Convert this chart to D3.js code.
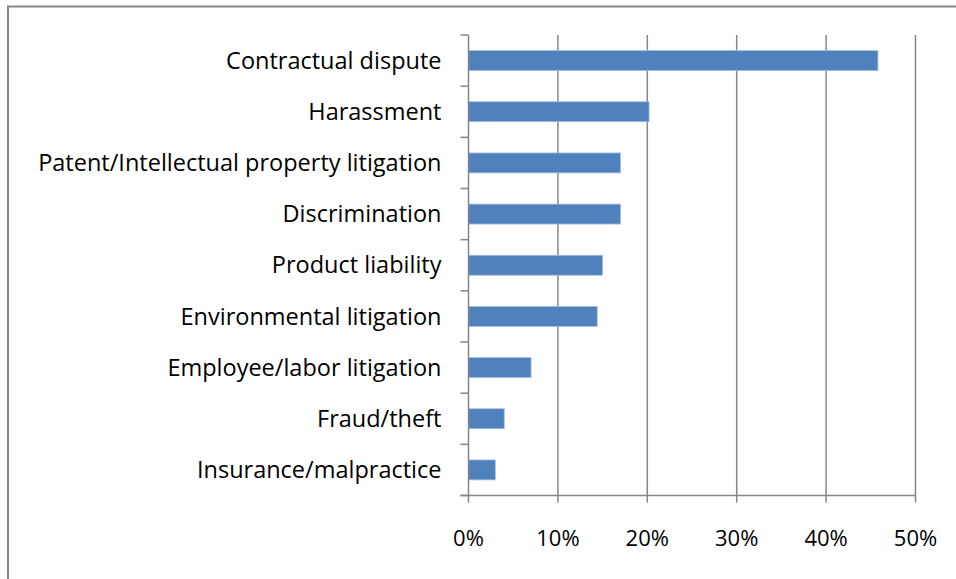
<!DOCTYPE html>
<html><head><meta charset="utf-8">
<script src="https://cdn.jsdelivr.net/npm/d3@7"></script>
<style>body{margin:0;background:#fff}svg{display:block}</style>
</head><body>
<svg id="c" width="956" height="579"></svg>
<script>
const categories = ["Contractual dispute","Harassment","Patent/Intellectual property litigation","Discrimination","Product liability","Environmental litigation","Employee/labor litigation","Fraud/theft","Insurance/malpractice"];
const values = [0.458,0.202,0.170,0.170,0.150,0.144,0.070,0.040,0.030];
const tickValues = [0,0.1,0.2,0.3,0.4,0.5];

const svg = d3.select("#c");
const font = "'Open Sans', 'Noto Sans', sans-serif";
// frame
svg.append("path").attr("d","M8,579 L8,6.5 L956,6.5").attr("fill","none").attr("stroke","#868686").attr("stroke-width",2);

const L=468.5, R=915.5, T=35, B=495.5;
const x = d3.scaleLinear().domain([0,0.5]).range([L,R]);
const y = d3.scaleBand().domain(categories).range([T,B]).paddingInner(0.61).paddingOuter(0.305);

// gridlines
svg.append("g").selectAll("line").data(tickValues.slice(1)).join("line")
  .attr("x1",d=>x(d)).attr("x2",d=>x(d)).attr("y1",T).attr("y2",B+7)
  .attr("stroke","#868686").attr("stroke-width",1.5);

// bars
svg.append("g").selectAll("rect").data(values).join("rect")
  .attr("x",x(0)).attr("y",(d,i)=>y(categories[i])).attr("width",d=>x(d)-x(0)).attr("height",y.bandwidth())
  .attr("fill","#4f81bd").attr("stroke","#a7c0de").attr("stroke-width",0.8);

// y axis
const yAxis = svg.append("g").attr("transform",`translate(${L},0)`);
yAxis.append("line").attr("x1",0).attr("x2",0).attr("y1",T).attr("y2",B+7).attr("stroke","#868686").attr("stroke-width",1.5);
const step = (B-T)/categories.length;
yAxis.selectAll("line.t").data(d3.range(categories.length+1)).join("line").attr("class","t")
  .attr("x1",-8).attr("x2",0).attr("y1",i=>T+i*step).attr("y2",i=>T+i*step)
  .attr("stroke","#868686").attr("stroke-width",1.5);
yAxis.selectAll("text").data(categories).join("text")
  .attr("x",-27).attr("y",d=>y(d)+y.bandwidth()/2).attr("dy","0.35em")
  .attr("text-anchor","end").attr("font-family",font).attr("font-size",23.5).attr("fill","#000").text(d=>d);

// x axis
const xAxis = svg.append("g").attr("transform",`translate(0,${B})`);
xAxis.append("line").attr("x1",L-8).attr("x2",R).attr("y1",0).attr("y2",0).attr("stroke","#868686").attr("stroke-width",1.5);
xAxis.selectAll("text").data(tickValues).join("text")
  .attr("x",d=>x(d)).attr("y",50.5).attr("text-anchor","middle")
  .attr("font-family",font).attr("font-size",22).attr("fill","#000").text(d3.format(".0%"));
</script>
</body></html>
